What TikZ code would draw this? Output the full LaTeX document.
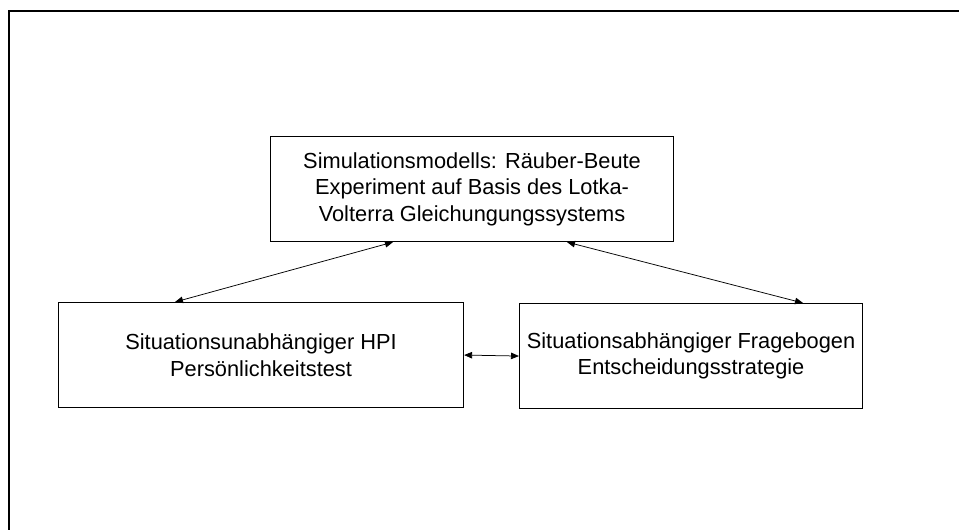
\documentclass[tikz,border=0pt]{standalone}
\usepackage{fontspec}
\setmainfont{Liberation Sans}
\usetikzlibrary{arrows.meta,calc}
\begin{document}
\begin{tikzpicture}[x=1pt,y=-1pt,
  box/.style={draw=black,line width=1.1pt,inner sep=0pt,align=center,
    font=\fontsize{21.8}{26.5}\selectfont,anchor=north west},
  arr/.style={draw=black,line width=0.75pt,{Triangle[length=8pt,width=6.5pt]}-{Triangle[length=8pt,width=6.5pt]}},
  frame/.style={draw=black,line width=2.2pt}]
\useasboundingbox (0,0) rectangle (959,530);
\fill[white] (0,0) rectangle (959,530);
\coordinate (fa) at (9,531);
\coordinate (fb) at (9,11);
\coordinate (fc) at (960,11);
\draw[frame] (fa) -- (fb) -- (fc);
\node[box,minimum width=403pt,minimum height=105pt] (top) at (270,136)
  {Simulationsmodells: Räuber-Beute\\Experiment auf Basis des Lotka-\\Volterra Gleichungungssystems};
\node[box,minimum width=405pt,minimum height=105pt] (left) at (58,302)
  {Situationsunabhängiger HPI\\Persönlichkeitstest};
\node[box,minimum width=343pt,minimum height=105pt] (right) at (519,303)
  {Situationsabhängiger Fragebogen\\Entscheidungsstrategie};
\draw[arr] ([xshift=123pt]top.south west) -- ([xshift=117pt]left.north west);
\draw[arr] ([xshift=297pt]top.south west) -- ([xshift=284pt]right.north west);
\draw[arr] (left.east) -- (right.west);
\end{tikzpicture}
\end{document}
